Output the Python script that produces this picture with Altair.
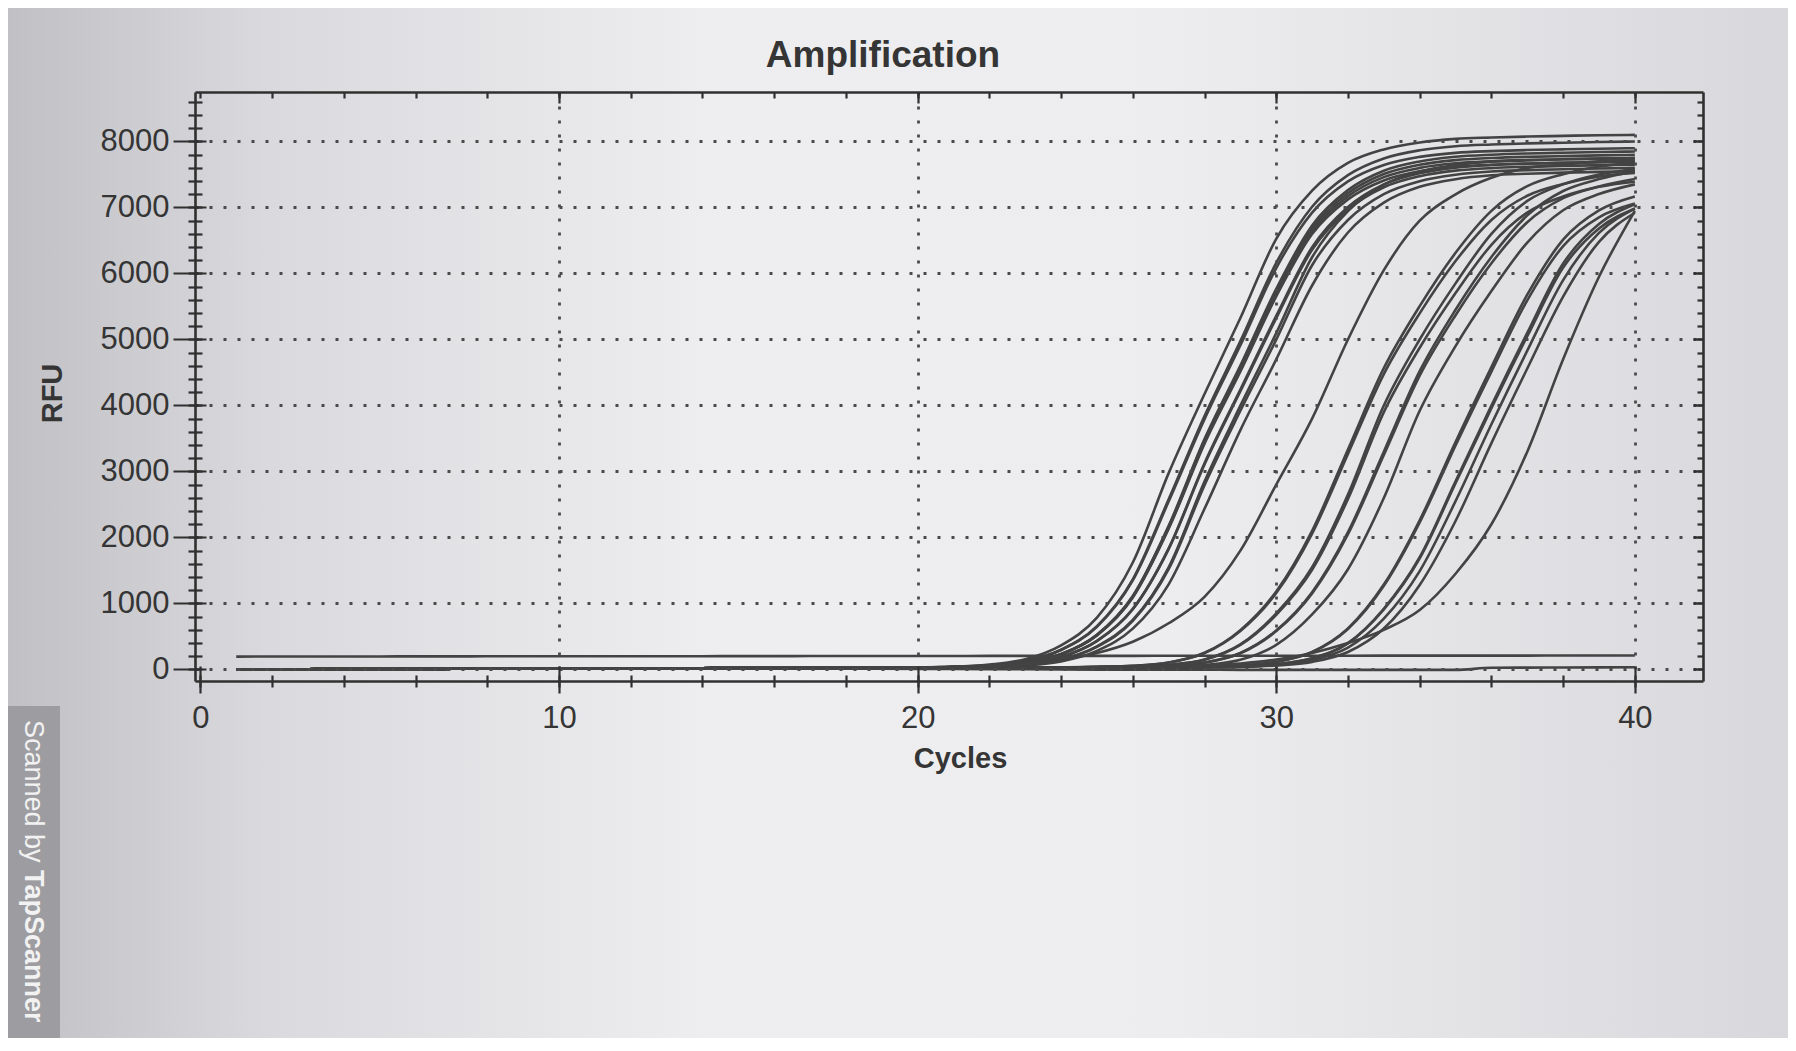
import altair as alt
import pandas as pd

# ---------------- text ----------------
title_text = "Amplification"
x_title = "Cycles"
y_title = "RFU"
watermark_plain = "Scanned by"
watermark_bold = "TapScanner"

# ---------------- axes ----------------
x_tick_labels = [0, 10, 20, 30, 40]
x_minor_ticks = [0, 2, 4, 6, 8, 10, 12, 14, 16, 18, 20, 22, 24, 26, 28, 30, 32, 34, 36, 38, 40]
y_tick_labels = [0, 1000, 2000, 3000, 4000, 5000, 6000, 7000, 8000]
y_minor_ticks = [0, 200, 400, 600, 800, 1000, 1200, 1400, 1600, 1800, 2000, 2200, 2400, 2600,
                 2800, 3000, 3200, 3400, 3600, 3800, 4000, 4200, 4400, 4600, 4800, 5000, 5200,
                 5400, 5600, 5800, 6000, 6200, 6400, 6600, 6800, 7000, 7200, 7400, 7600, 7800,
                 8000, 8200, 8400, 8600]

# ---------------- data (RFU) ----------------
cycles_early = [1, 2, 3, 4, 5, 6, 7, 8, 9, 10, 11, 12, 13, 14, 15, 16, 17, 18, 19]
cycles_late = [20, 21, 22, 23, 24, 25, 26, 27, 28, 29, 30, 31, 32, 33, 34, 35, 36, 37, 38, 39, 40]

# shared baseline of the amplification curves, cycles 1-19
baseline_early = [0, 2, 4, 5, 7, 8, 10, 11, 13, 14, 15, 17, 18, 19, 21, 22, 24, 25, 27]

# amplification curves, cycles 20-40
A1 = [30, 40, 75, 155, 365, 785, 1620, 2975, 4175, 5325, 6525, 7255, 7675, 7880, 7985, 8040, 8060, 8075, 8085, 8095, 8100]
A2 = [30, 39, 64, 129, 299, 655, 1366, 2578, 3840, 4975, 6160, 7011, 7490, 7743, 7867, 7928, 7954, 7971, 7982, 7992, 8000]
A3 = [30, 39, 63, 127, 295, 646, 1349, 2545, 3792, 4912, 6083, 6922, 7396, 7645, 7767, 7828, 7854, 7870, 7881, 7891, 7898]
A4 = [28, 35, 56, 101, 233, 526, 1113, 2175, 3490, 4603, 5766, 6727, 7263, 7557, 7698, 7769, 7800, 7818, 7830, 7840, 7848]
A5 = [28, 35, 55, 100, 231, 523, 1106, 2161, 3467, 4573, 5729, 6683, 7216, 7507, 7648, 7718, 7749, 7767, 7779, 7789, 7797]
A6 = [28, 35, 55, 100, 230, 519, 1099, 2147, 3445, 4544, 5693, 6641, 7171, 7460, 7600, 7670, 7700, 7718, 7730, 7740, 7748]
A7 = [27, 33, 48, 84, 188, 432, 918, 1835, 3125, 4241, 5357, 6398, 7008, 7351, 7519, 7604, 7643, 7662, 7676, 7686, 7695]
A8 = [27, 33, 47, 84, 187, 429, 912, 1824, 3106, 4215, 5324, 6360, 6966, 7306, 7474, 7558, 7597, 7616, 7630, 7640, 7649]
A9 = [28, 30, 40, 70, 150, 350, 750, 1549, 2848, 3997, 5096, 6246, 6945, 7345, 7545, 7645, 7695, 7715, 7730, 7740, 7750]
A10 = [27, 29, 39, 69, 147, 343, 735, 1519, 2793, 3920, 4998, 6125, 6811, 7203, 7399, 7497, 7546, 7566, 7580, 7590, 7600]
A11 = [28, 35, 55, 99, 228, 516, 1091, 2133, 3422, 4514, 5654, 6597, 7123, 7410, 7549, 7619, 7648, 7666, 7678, 7688, 7696]
A12 = [26, 28, 37, 60, 122, 282, 618, 1290, 2434, 3627, 4698, 5818, 6621, 7074, 7313, 7429, 7488, 7512, 7528, 7539, 7550]

B1 = [30, 35, 45, 80, 150, 250, 420, 700, 1100, 1800, 2800, 3800, 5000, 6050, 6800, 7200, 7450, 7600, 7650, 7700, 7720]
B2 = [30, 30, 30, 31, 31, 40, 56, 106, 253, 596, 1182, 2101, 3333, 4565, 5505, 6313, 6949, 7323, 7504, 7620, 7676]
B3 = [30, 30, 30, 30, 30, 40, 54, 104, 248, 584, 1158, 2059, 3267, 4475, 5396, 6188, 6811, 7178, 7356, 7470, 7524]
B4 = [30, 30, 30, 30, 30, 35, 45, 70, 150, 380, 850, 1550, 2650, 4000, 5000, 5850, 6600, 7100, 7350, 7500, 7580]
B5 = [30, 30, 30, 30, 30, 34, 44, 68, 146, 371, 829, 1511, 2584, 3900, 4875, 5704, 6435, 6923, 7166, 7313, 7391]
B6 = [30, 30, 30, 30, 30, 32, 40, 55, 105, 250, 590, 1170, 2080, 3300, 4520, 5450, 6250, 6880, 7250, 7430, 7545]
B7 = [30, 30, 30, 30, 30, 32, 39, 54, 103, 246, 581, 1152, 2049, 3251, 4452, 5368, 6156, 6777, 7141, 7319, 7432]
B8 = [30, 30, 30, 30, 30, 30, 34, 44, 69, 147, 372, 833, 1519, 2597, 3920, 4900, 5733, 6468, 6958, 7203, 7350]

C1 = [30, 30, 30, 30, 30, 30, 30, 30, 38, 60, 116, 266, 623, 1286, 2261, 3447, 4583, 5678, 6512, 6955, 7166]
C2 = [30, 30, 30, 30, 30, 30, 30, 30, 38, 59, 114, 262, 614, 1267, 2228, 3396, 4514, 5594, 6415, 6851, 7059]
C3 = [30, 30, 30, 30, 30, 30, 30, 30, 35, 45, 80, 170, 400, 920, 1700, 2850, 4000, 5100, 6150, 6750, 7050]
C4 = [30, 30, 30, 30, 30, 30, 30, 30, 35, 45, 79, 168, 396, 911, 1683, 2822, 3960, 5049, 6089, 6683, 6980]
C5 = [30, 30, 30, 30, 30, 30, 30, 30, 32, 38, 60, 115, 265, 620, 1280, 2250, 3430, 4560, 5650, 6480, 6920]
C6 = [30, 30, 30, 30, 30, 30, 30, 30, 34, 43, 70, 142, 332, 770, 1490, 2550, 3715, 4830, 5900, 6615, 6985]
C7 = [30, 30, 30, 30, 30, 30, 30, 35, 60, 90, 150, 250, 400, 600, 900, 1450, 2200, 3300, 4700, 5950, 6950]

# flat traces, cycles 1-40
flat_high = [195, 196, 196, 197, 197, 198, 198, 199, 199, 200, 200, 200, 201, 201, 202, 202, 203, 203, 203, 204,
             204, 205, 205, 205, 206, 206, 207, 207, 207, 208, 208, 208, 209, 209, 210, 210, 210, 211, 211, 212]
neg_control = [0, 2, 4, 5, 7, 8, 10, 11, 12, 13, 14, 14, 15, 15, 15, 14, 13, 12, 10, 8,
               6, 4, 2, 0, -2, -3, -4, -5, -6, -6, -7, -7, -7, -7, -7, 25, 28, 30, 32, 34]

amp_curves = {
    "A1": A1, "A2": A2, "A3": A3, "A4": A4, "A5": A5, "A6": A6, "A7": A7, "A8": A8,
    "A9": A9, "A10": A10, "A11": A11, "A12": A12,
    "B1": B1, "B2": B2, "B3": B3, "B4": B4, "B5": B5, "B6": B6, "B7": B7, "B8": B8,
    "C1": C1, "C2": C2, "C3": C3, "C4": C4, "C5": C5, "C6": C6, "C7": C7,
}

rows = []
for name, vals in amp_curves.items():
    for c, v in zip(cycles_early, baseline_early):
        rows.append({"well": name, "cycle": c, "rfu": v})
    for c, v in zip(cycles_late, vals):
        rows.append({"well": name, "cycle": c, "rfu": v})
for name, vals in (("F1", flat_high), ("N1", neg_control)):
    for c, v in zip(cycles_early + cycles_late, vals):
        rows.append({"well": name, "cycle": c, "rfu": v})
df = pd.DataFrame(rows)

anchor = pd.DataFrame({"cycle": [20], "rfu": [4000]})

# ---------------- style ----------------
FONT = "Liberation Sans"
INK = "#303030"
TEXT = "#353535"
LINE = "#434343"

xs = alt.Scale(domain=[-0.15, 41.9], nice=False, zero=False)
ys = alt.Scale(domain=[-175, 8750], nice=False, zero=False)


def ax(**kw):
    base = dict(zindex=1, title=None, labels=False, domain=False, grid=False,
                ticks=True, tickColor=INK, tickWidth=2.2, domainColor=INK, domainWidth=2.6)
    base.update(kw)
    return alt.Axis(**base)


def axis_layer(xaxis, yaxis):
    return alt.Chart(anchor).mark_point(opacity=0).encode(
        x=alt.X("cycle:Q", scale=xs, axis=xaxis),
        y=alt.Y("rfu:Q", scale=ys, axis=yaxis),
    )


paper = alt.Chart(anchor).mark_rect(
    color=alt.LinearGradient(
        gradient="linear", x1=0, x2=1, y1=0, y2=0,
        stops=[alt.GradientStop(offset=0, color="#c0c0c4"),
               alt.GradientStop(offset=0.15, color="#dadade"),
               alt.GradientStop(offset=0.4, color="#eeeef0"),
               alt.GradientStop(offset=0.65, color="#ededef"),
               alt.GradientStop(offset=1, color="#d8d8dc")])
).encode(x=alt.value(-195), x2=alt.value(1600), y=alt.value(-100), y2=alt.value(960))

band = alt.Chart(anchor).mark_rect(color="#9d9da1").encode(
    x=alt.value(-195), x2=alt.value(-135), y=alt.value(614), y2=alt.value(960))
wm1 = alt.Chart(anchor).mark_text(
    text=watermark_plain, angle=90, align="left", baseline="middle",
    font=FONT, fontSize=27, color="#f2f2f2"
).encode(x=alt.value(-162), y=alt.value(628))
wm2 = alt.Chart(anchor).mark_text(
    text=watermark_bold, angle=90, align="left", baseline="middle",
    font=FONT, fontSize=27, fontWeight="bold", color="#f2f2f2"
).encode(x=alt.value(-162), y=alt.value(778))

title_mark = alt.Chart(anchor).mark_text(
    text=title_text, align="center", baseline="alphabetic",
    font=FONT, fontSize=37, fontWeight="bold", color=TEXT
).encode(x=alt.value(688), y=alt.value(-25))

lines = alt.Chart(df).mark_line(
    interpolate="monotone", strokeWidth=2.6, color=LINE
).encode(
    x=alt.X("cycle:Q", scale=xs, axis=None),
    y=alt.Y("rfu:Q", scale=ys, axis=None),
    detail="well:N",
    order="cycle:Q",
)

grid_layer = axis_layer(
    ax(orient="bottom", values=[10, 20, 30, 40], grid=True, ticks=False, domain=True,
       gridColor="#4a4a4a", gridDash=[3, 11], gridWidth=2.8),
    ax(orient="left", values=y_tick_labels, grid=True, ticks=False, domain=True,
       gridColor="#4a4a4a", gridDash=[3, 11], gridWidth=2.8),
)
minor_layer = axis_layer(
    ax(orient="bottom", values=x_minor_ticks, offset=-6, tickSize=12),
    ax(orient="left", values=y_minor_ticks, offset=-7, tickSize=14),
)
major_layer = axis_layer(
    ax(orient="bottom", values=x_tick_labels, offset=-15, tickSize=27, labels=True,
       labelFont=FONT, labelFontSize=31, labelColor=TEXT, labelPadding=10,
       format="d", labelFlush=False,
       title=x_title, titleFont=FONT, titleFontSize=29, titleFontWeight="bold",
       titleColor=TEXT, titleX=765, titleY=92, titleBaseline="middle", titleAlign="center"),
    ax(orient="left", values=y_tick_labels, offset=-11, tickSize=33, labels=True,
       labelFont=FONT, labelFontSize=31, labelColor=TEXT, labelPadding=4,
       format="d", labelFlush=False,
       title=y_title, titleFont=FONT, titleFontSize=29, titleFontWeight="bold",
       titleColor=TEXT, titleX=-154, titleY=301, titleBaseline="middle", titleAlign="center",
       titleAngle=270),
)
inner_minor_layer = axis_layer(
    ax(orient="top", values=x_minor_ticks, offset=-6, tickSize=6),
    ax(orient="right", values=y_minor_ticks, offset=-6, tickSize=6),
)
inner_major_layer = axis_layer(
    ax(orient="top", values=[10, 20, 30, 40], offset=-11, tickSize=11),
    ax(orient="right", values=y_tick_labels, offset=-10, tickSize=10),
)
frame_layer = axis_layer(
    ax(orient="top", values=[0], ticks=False, domain=True),
    ax(orient="right", values=[0], ticks=False, domain=True),
)

chart = alt.layer(
    paper, band, wm1, wm2, title_mark, lines,
    grid_layer, minor_layer, major_layer, inner_minor_layer, inner_major_layer, frame_layer,
).resolve_axis(
    x="independent", y="independent"
).properties(
    width=1508,
    height=589,
    padding={"left": 187, "top": 84, "right": 85, "bottom": 357},
    autosize=alt.AutoSizeParams(type="none"),
).configure(
    background="#e2e2e6"
).configure_view(
    strokeWidth=0
)

chart.save("out.html", embed_options={"renderer": "svg", "actions": False})
